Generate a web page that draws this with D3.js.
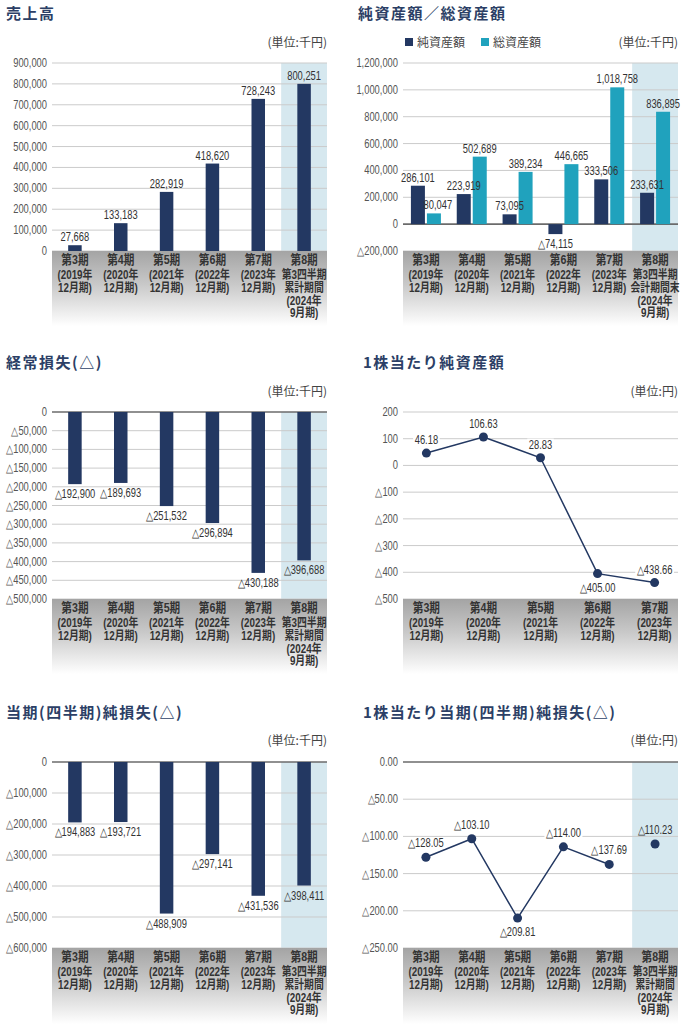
<!DOCTYPE html>
<html>
<head>
<meta charset="utf-8">
<script src="https://cdn.jsdelivr.net/npm/d3@7"></script>
<style>
  body { margin: 0; background: #fff; }
  .title { font-family: "Noto Sans CJK JP", sans-serif; font-weight: 700; font-size: 15px; letter-spacing: 1.5px; fill: #2c3f66; }
  .unit, .legend { font-family: "Noto Sans CJK JP", sans-serif; font-size: 12px; fill: #444; }
  .tick { font-family: "Liberation Sans", Arial, sans-serif; font-size: 12px; fill: #555; }
  .val { font-family: "Liberation Sans", Arial, sans-serif; font-size: 12px; fill: #333; }
  .cat { font-family: "Liberation Sans", "Noto Sans CJK JP", sans-serif; font-weight: 700; font-size: 12px; fill: #333; }
  .cat.first { font-size: 13px; }
</style>
</head>
<body>
<div id="root"></div>
<script>
// category labels (one array of lines per period)
const periods = [
  ["第3期", "(2019年", "12月期)"],
  ["第4期", "(2020年", "12月期)"],
  ["第5期", "(2021年", "12月期)"],
  ["第6期", "(2022年", "12月期)"],
  ["第7期", "(2023年", "12月期)"],
  ["第8期", "第3四半期", "累計期間", "(2024年", "9月期)"]
];
const periodsBalance = periods.slice(0, 5).concat([["第8期", "第3四半期", "会計期間末", "(2024年", "9月期)"]]);
const periodsYear = periods.slice(0, 5);

// series values
const sales = [27668, 133183, 282919, 418620, 728243, 800251];
const netAssets = [286101, 223919, 73095, -74115, 333506, 233631];
const totalAssets = [80047, 502689, 389234, 446665, 1018758, 836895];
const ordinaryLoss = [-192900, -189693, -251532, -296894, -430188, -396688];
const bpsValues = [46.18, 106.63, 28.83, -405.00, -438.66];
const netLoss = [-194883, -193721, -488909, -297141, -431536, -398411];
const epsValues = [-128.05, -103.10, -209.81, -114.00, -137.69, -110.23];

// tick values
const salesTicks = [0, 100000, 200000, 300000, 400000, 500000, 600000, 700000, 800000, 900000];
const assetTicks = [-200000, 0, 200000, 400000, 600000, 800000, 1000000, 1200000];
const ordTicks = [0, -50000, -100000, -150000, -200000, -250000, -300000, -350000, -400000, -450000, -500000];
const bpsTicks = [200, 100, 0, -100, -200, -300, -400, -500];
const netTicks = [0, -100000, -200000, -300000, -400000, -500000, -600000];
const epsTicks = [0, -50, -100, -150, -200, -250];

const NAVY = "#233862", TEAL = "#20a2bd", HILITE = "#d6e8ef";
const NUM_SX = 0.78, CAT_SX = 0.82;

const fmtInt = v => (v < 0 ? "△" : "") + d3.format(",")(Math.abs(v));
const fmtDec = v => (v < 0 ? "△" : "") + d3.format(",.2f")(Math.abs(v));

const svg = d3.select("#root").append("svg")
  .attr("width", 686).attr("height", 1024);

const grad = svg.append("defs").append("linearGradient")
  .attr("id", "band").attr("x1", 0).attr("y1", 0).attr("x2", 0).attr("y2", 1);
grad.append("stop").attr("offset", 0).attr("stop-color", "#a4a4a4");
grad.append("stop").attr("offset", 0.45).attr("stop-color", "#c9c9c9");
grad.append("stop").attr("offset", 1).attr("stop-color", "#ffffff");

// condensed text: drawn at (x,y) and squeezed horizontally
function ctext(g, x, y, t, cls, anchor, sx) {
  return g.append("text").attr("class", cls)
    .attr("transform", `translate(${x},${y}) scale(${sx},1)`)
    .attr("text-anchor", anchor).text(t);
}

// draws title, unit, grid, axis labels and the gray category band
function drawFrame(o) {
  const g = svg.append("g");
  let x, cx;
  if (o.point) {
    x = d3.scalePoint().domain(d3.range(o.cats.length)).range([o.x0, o.x1]).padding(o.padding);
    cx = i => x(i);
  } else {
    x = d3.scaleBand().domain(d3.range(o.cats.length)).range([o.x0, o.x1]);
    cx = i => x(i) + x.bandwidth() / 2;
  }
  const y = d3.scaleLinear().domain(o.domain).range([o.yBottom, o.yTop]);

  g.append("text").attr("class", "title").attr("x", o.titleX).attr("y", o.titleY).text(o.title);
  g.append("text").attr("class", "unit").attr("x", o.x1).attr("y", o.unitY)
    .attr("text-anchor", "end").text(o.unit);

  if (o.highlight) {
    const bx = d3.scaleBand().domain(d3.range(o.cats.length)).range([o.x0, o.x1]);
    g.append("rect")
      .attr("x", bx(o.cats.length - 1)).attr("y", o.yTop)
      .attr("width", o.x1 - bx(o.cats.length - 1)).attr("height", o.yBottom - o.yTop)
      .attr("fill", HILITE);
  }

  g.selectAll(".grid").data(o.ticks).join("line")
    .attr("x1", o.x0).attr("x2", o.x1)
    .attr("y1", d => y(d)).attr("y2", d => y(d))
    .attr("stroke", d => (d === 0 && o.zeroDark) ? "#6b6b6b" : "#cbcbcb")
    .attr("stroke-width", d => (d === 0 && o.zeroDark) ? 1.6 : 1);

  o.ticks.forEach(d => {
    ctext(g, o.x0 - 5, y(d) + 4, o.tickFmt(d), "tick", "end", NUM_SX);
  });

  g.append("rect").attr("x", o.x0).attr("y", o.yBottom)
    .attr("width", o.x1 - o.x0).attr("height", o.bandH)
    .attr("fill", "url(#band)");

  const base = [13, 28, 40.8, 53.6, 66.4];
  o.cats.forEach((lines, i) => {
    lines.forEach((t, j) => {
      ctext(g, cx(i), o.yBottom + base[j], t, j === 0 ? "cat first" : "cat", "middle", CAT_SX);
    });
  });
  return { g, x, y, cx };
}

// value label with a background box so gridlines break around it
function boxedLabel(g, x, y, text, bg) {
  const t = ctext(g, x, y, text, "val", "middle", NUM_SX);
  const b = t.node().getBBox();
  g.insert("rect", () => t.node())
    .attr("transform", `translate(${x},${y}) scale(${NUM_SX},1)`)
    .attr("x", b.x - 2).attr("y", b.y + 1).attr("width", b.width + 4).attr("height", b.height - 2)
    .attr("fill", bg);
}

// ---- 売上高
{
  const f = drawFrame({
    x0: 52, x1: 327, yTop: 63, yBottom: 251, bandH: 75, domain: [0, 900000],
    ticks: salesTicks, tickFmt: fmtInt, cats: periods, highlight: true,
    title: "売上高", titleX: 6, titleY: 19, unit: "(単位:千円)", unitY: 47
  });
  const w = 13.5;
  f.g.selectAll(".bar").data(sales).join("rect")
    .attr("x", (d, i) => f.cx(i) - w / 2).attr("y", d => f.y(d))
    .attr("width", w).attr("height", d => f.y(0) - f.y(d)).attr("fill", NAVY);
  sales.forEach((d, i) => ctext(f.g, f.cx(i), f.y(d) - 4, fmtInt(d), "val", "middle", NUM_SX));
}

// ---- 純資産額／総資産額
{
  const f = drawFrame({
    x0: 403, x1: 678, yTop: 63, yBottom: 251, bandH: 75, domain: [-200000, 1200000],
    ticks: assetTicks, tickFmt: fmtInt, cats: periodsBalance, highlight: true, zeroDark: true,
    title: "純資産額／総資産額", titleX: 358, titleY: 19, unit: "(単位:千円)", unitY: 47
  });
  const w = 14;
  const series = [{ vals: netAssets, c: NAVY, off: -w - 1 }, { vals: totalAssets, c: TEAL, off: 1 }];
  series.forEach(s => {
    f.g.append("g").selectAll("rect").data(s.vals).join("rect")
      .attr("x", (d, i) => f.cx(i) + s.off)
      .attr("y", d => f.y(Math.max(0, d)))
      .attr("width", w).attr("height", d => Math.abs(f.y(0) - f.y(d)))
      .attr("fill", s.c);
  });
  series.forEach(s => {
    s.vals.forEach((d, i) => {
      const lx = f.cx(i) + s.off + w / 2 + (s.c === TEAL && i === 0 ? 4 : 0);
      const ly = d < 0 ? f.y(d) + 14 : f.y(d) - 4;
      ctext(f.g, lx, ly, fmtInt(d), "val", "middle", NUM_SX);
    });
  });
  // legend
  const lg = f.g.append("g");
  [["純資産額", NAVY, 405], ["総資産額", TEAL, 481]].forEach(([t, c, lx]) => {
    lg.append("rect").attr("x", lx).attr("y", 38).attr("width", 8).attr("height", 8).attr("fill", c);
    lg.append("text").attr("class", "legend").attr("x", lx + 12).attr("y", 47).text(t);
  });
}

// ---- 経常損失(△)
{
  const f = drawFrame({
    x0: 52, x1: 327, yTop: 412, yBottom: 599, bandH: 75, domain: [-500000, 0],
    ticks: ordTicks, tickFmt: fmtInt, cats: periods, highlight: true, zeroDark: true,
    title: "経常損失(△)", titleX: 6, titleY: 368, unit: "(単位:千円)", unitY: 396
  });
  const w = 13.5;
  f.g.selectAll(".bar").data(ordinaryLoss).join("rect")
    .attr("x", (d, i) => f.cx(i) - w / 2).attr("y", f.y(0))
    .attr("width", w).attr("height", d => f.y(d) - f.y(0)).attr("fill", NAVY);
  ordinaryLoss.forEach((d, i) => ctext(f.g, f.cx(i), f.y(d) + 14, fmtInt(d), "val", "middle", NUM_SX));
}

// ---- 1株当たり純資産額
{
  const f = drawFrame({
    x0: 403, x1: 678, yTop: 412, yBottom: 599, bandH: 75, domain: [-500, 200],
    ticks: bpsTicks, tickFmt: fmtInt, cats: periodsYear, point: true, padding: 0.41,
    title: "1株当たり純資産額", titleX: 363, titleY: 368, unit: "(単位:円)", unitY: 396
  });
  const line = d3.line().x((d, i) => f.cx(i)).y(d => f.y(d));
  f.g.append("path").datum(bpsValues).attr("d", line)
    .attr("fill", "none").attr("stroke", NAVY).attr("stroke-width", 1.5);
  f.g.selectAll(".pt").data(bpsValues).join("circle")
    .attr("cx", (d, i) => f.cx(i)).attr("cy", d => f.y(d)).attr("r", 4.5).attr("fill", NAVY);
  const below = [false, false, false, true, false];
  bpsValues.forEach((d, i) => {
    boxedLabel(f.g, f.cx(i), below[i] ? f.y(d) + 18 : f.y(d) - 9, fmtDec(d), "#fff");
  });
}

// ---- 当期(四半期)純損失(△)
{
  const f = drawFrame({
    x0: 52, x1: 327, yTop: 762, yBottom: 948, bandH: 76, domain: [-600000, 0],
    ticks: netTicks, tickFmt: fmtInt, cats: periods, highlight: true, zeroDark: true,
    title: "当期(四半期)純損失(△)", titleX: 6, titleY: 718, unit: "(単位:千円)", unitY: 745
  });
  const w = 13.5;
  f.g.selectAll(".bar").data(netLoss).join("rect")
    .attr("x", (d, i) => f.cx(i) - w / 2).attr("y", f.y(0))
    .attr("width", w).attr("height", d => f.y(d) - f.y(0)).attr("fill", NAVY);
  netLoss.forEach((d, i) => ctext(f.g, f.cx(i), f.y(d) + 14, fmtInt(d), "val", "middle", NUM_SX));
}

// ---- 1株当たり当期(四半期)純損失(△)
{
  const f = drawFrame({
    x0: 403, x1: 678, yTop: 762, yBottom: 948, bandH: 76, domain: [-250, 0],
    ticks: epsTicks, tickFmt: fmtDec, cats: periods, highlight: true, zeroDark: true,
    title: "1株当たり当期(四半期)純損失(△)", titleX: 363, titleY: 718, unit: "(単位:円)", unitY: 745
  });
  const line = d3.line().x((d, i) => f.cx(i)).y(d => f.y(d));
  f.g.append("path").datum(epsValues.slice(0, 5)).attr("d", line)
    .attr("fill", "none").attr("stroke", NAVY).attr("stroke-width", 1.5);
  f.g.selectAll(".pt").data(epsValues).join("circle")
    .attr("cx", (d, i) => f.cx(i)).attr("cy", d => f.y(d)).attr("r", 4.5).attr("fill", NAVY);
  const below = [false, false, true, false, false, false];
  epsValues.forEach((d, i) => {
    boxedLabel(f.g, f.cx(i), below[i] ? f.y(d) + 18 : f.y(d) - 10, fmtDec(d), i === 5 ? HILITE : "#fff");
  });
}
</script>
</body>
</html>
